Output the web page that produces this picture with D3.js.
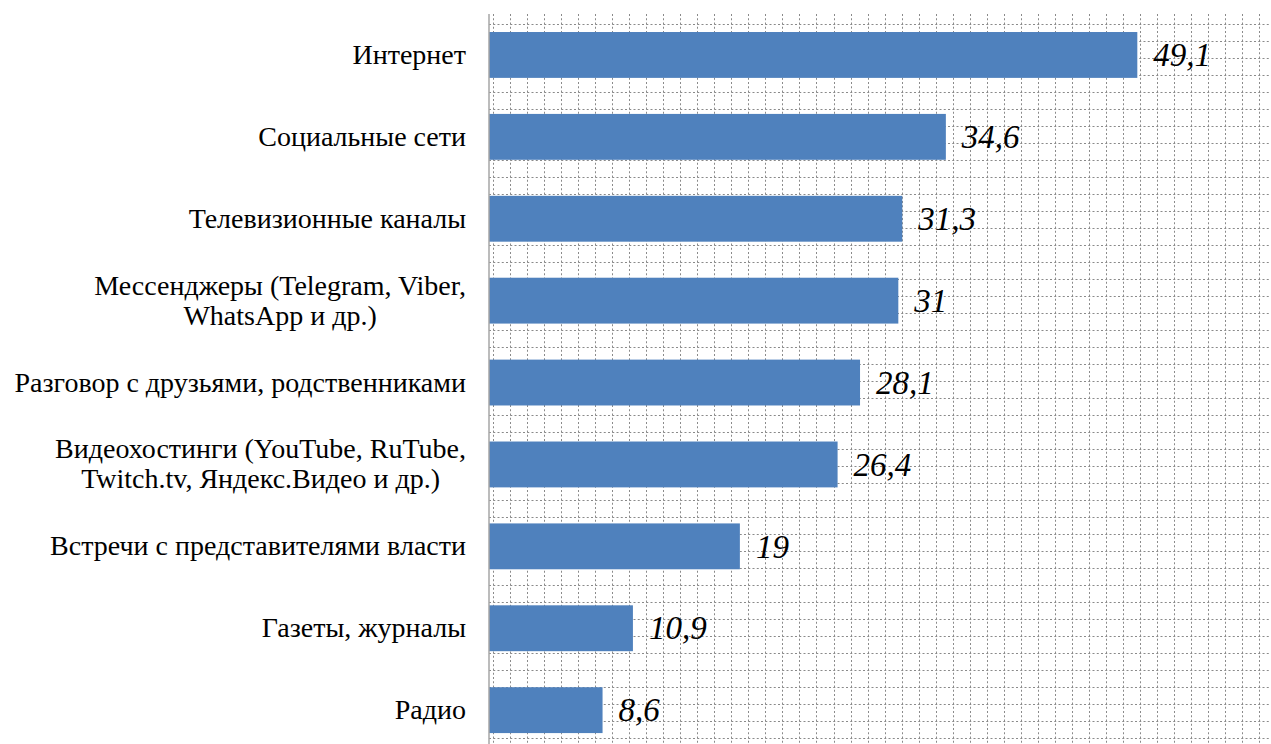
<!DOCTYPE html>
<html>
<head>
<meta charset="utf-8">
<script src="https://cdn.jsdelivr.net/npm/d3@7"></script>
<style>
  html, body { margin: 0; padding: 0; background: #fff; }
  svg { display: block; }
  svg text { font-family: "Liberation Serif", "Times New Roman", Tinos, Times, serif !important; }
</style>
</head>
<body>
<svg id="chart" width="1271" height="744"></svg>
<script>
// data
var categories = [
    ["Интернет"],
    ["Социальные сети"],
    ["Телевизионные каналы"],
    ["Мессенджеры (Telegram, Viber,", "WhatsApp и др.)"],
    ["Разговор с друзьями, родственниками"],
    ["Видеохостинги (YouTube, RuTube,", "Twitch.tv, Яндекс.Видео и др.)"],
    ["Встречи с представителями власти"],
    ["Газеты, журналы"],
    ["Радио"]
];
var values = [49.1, 34.6, 31.3, 31, 28.1, 26.4, 19, 10.9, 8.6];
var valueLabels = ["49,1", "34,6", "31,3", "31", "28,1", "26,4", "19", "10,9", "8,6"];

var W = 1271, H = 744;
var plotLeft = 489, plotTop = 14;
var svg = d3.select("#chart");

var x = d3.scaleLinear().domain([0, 60]).range([plotLeft, plotLeft + 60 * 13.204]);
var y = d3.scaleBand()
    .domain(d3.range(categories.length))
    .range([plotTop, plotTop + 9 * 81.9])
    .paddingInner(0.44)
    .paddingOuter(0.22);

/* dotted background grid (pattern-like, 17px cell) */
var grid = svg.append("g").attr("stroke", "#8a8a8a").attr("stroke-width", 1)
    .attr("stroke-dasharray", "2,2.25");
grid.selectAll("line.v").data(d3.range(0, 46)).enter().append("line")
    .attr("class", "v")
    .attr("x1", function (d) { return Math.round(493.3 + d * 17.01) + 0.5; })
    .attr("x2", function (d) { return Math.round(493.3 + d * 17.01) + 0.5; })
    .attr("y1", plotTop).attr("y2", H);
grid.selectAll("line.h").data(d3.range(0, 43)).enter().append("line")
    .attr("class", "h")
    .attr("y1", function (d) { return Math.round(24.3 + d * 17.0) + 0.5; })
    .attr("y2", function (d) { return Math.round(24.3 + d * 17.0) + 0.5; })
    .attr("x1", plotLeft).attr("x2", W);

/* bars */
svg.append("g").selectAll("rect").data(values).enter().append("rect")
    .attr("x", x(0))
    .attr("y", function (d, i) { return y(i); })
    .attr("width", function (d) { return x(d) - x(0); })
    .attr("height", y.bandwidth())
    .attr("fill", "#4f81bd");

/* category axis */
var yAxis = svg.append("g")
    .attr("transform", "translate(" + plotLeft + ",0)")
    .call(d3.axisLeft(y).tickSize(0).tickPadding(23).tickFormat(""));
yAxis.attr("font-family", null);
yAxis.select(".domain").attr("stroke", "#a6a6a6").attr("stroke-width", 1.5)
    .attr("d", "M0," + plotTop + "V" + H);

var lineH = 30, fs = 28;
yAxis.selectAll(".tick text").each(function (d) {
    var lines = categories[d];
    var t = d3.select(this)
        .attr("font-size", fs)
        .attr("fill", "#000")
        .attr("text-anchor", "end")
        .attr("dy", null);
    t.text(null);
    if (lines.length === 1) {
        t.append("tspan").attr("x", -23).attr("dy", "0.32em").text(lines[0]);
    } else {
        // two centred lines, block right-aligned
        var tmp = svg.append("text").attr("font-size", fs);
        var widths = lines.map(function (s) { tmp.text(s); return tmp.node().getComputedTextLength(); });
        tmp.remove();
        var wMax = d3.max(widths);
        t.attr("text-anchor", "middle");
        lines.forEach(function (s, k) {
            t.append("tspan")
                .attr("x", -23 - wMax / 2)
                .attr("y", (k - (lines.length - 1) / 2) * lineH)
                .attr("dy", "0.32em")
                .text(s);
        });
    }
});

/* value labels */
svg.append("g").selectAll("text").data(values).enter().append("text")
    .attr("x", function (d) { return x(d) + 16; })
    .attr("y", function (d, i) { return y(i) + y.bandwidth() / 2; })
    .attr("dy", "0.34em")
    .attr("font-style", "italic")
    .attr("font-size", 33)
    .attr("fill", "#000")
    .text(function (d, i) { return valueLabels[i]; });
</script>
</body>
</html>
